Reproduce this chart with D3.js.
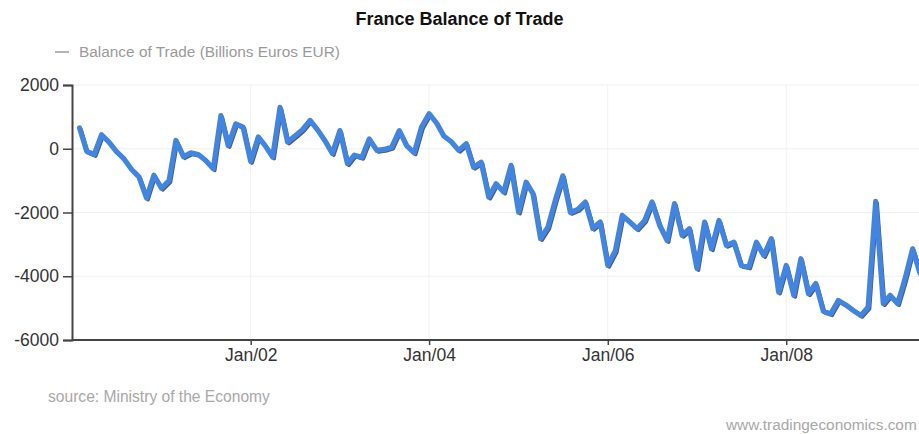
<!DOCTYPE html>
<html>
<head>
<meta charset="utf-8">
<script src="https://cdn.jsdelivr.net/npm/d3@7"></script>
<style>
  html, body { margin: 0; padding: 0; background: #fff; }
  svg { display: block; font-family: "Liberation Sans", Arial, sans-serif; }
</style>
</head>
<body>
<svg id="chart" width="919" height="434"></svg>
<script>
// Monthly balance of trade, millions of euros, one array per calendar year
const balance2000 = [650, -80, -180, 440, 200, -90, -320, -650, -880, -1550, -830]; // Feb–Dec
const balance2001 = [-1240, -1000, 260, -250, -130, -180, -370, -630, 1040, 100, 780, 680];
const balance2002 = [-400, 370, 100, -260, 1300, 210, 400, 600, 890, 600, 250, -150];
const balance2003 = [570, -470, -200, -270, 310, -50, -20, 50, 570, 100, -130, 680];
const balance2004 = [1100, 800, 400, 220, -50, 160, -580, -420, -1520, -1100, -1360, -520];
const balance2005 = [-1990, -1050, -1410, -2820, -2460, -1600, -850, -2000, -1900, -1670, -2500, -2300];
const balance2006 = [-3660, -3200, -2090, -2300, -2510, -2250, -1670, -2400, -2880, -1720, -2720, -2510];
const balance2007 = [-3760, -2300, -3140, -2250, -3030, -2930, -3660, -3710, -2930, -3350, -2820, -4500];
const balance2008 = [-3660, -4600, -3450, -4550, -4230, -5100, -5180, -4760, -4900, -5070, -5230, -4970];
const balance2009 = [-1650, -4860, -4600, -4860, -4080, -3140, -3900]; // Jan–Jul

const years = [
  { year: 2000, firstMonth: 1, values: balance2000 },
  { year: 2001, firstMonth: 0, values: balance2001 },
  { year: 2002, firstMonth: 0, values: balance2002 },
  { year: 2003, firstMonth: 0, values: balance2003 },
  { year: 2004, firstMonth: 0, values: balance2004 },
  { year: 2005, firstMonth: 0, values: balance2005 },
  { year: 2006, firstMonth: 0, values: balance2006 },
  { year: 2007, firstMonth: 0, values: balance2007 },
  { year: 2008, firstMonth: 0, values: balance2008 },
  { year: 2009, firstMonth: 0, values: balance2009 }
];

const yTickValues = [2000, 0, -2000, -4000, -6000];
const xTickYears = [2002, 2004, 2006, 2008];
const xTickLabels = ["Jan/02", "Jan/04", "Jan/06", "Jan/08"];

const titleText = "France Balance of Trade";
const legendText = "Balance of Trade (Billions Euros EUR)";
const sourceText = "source: Ministry of the Economy";
const siteText = "www.tradingeconomics.com";

const series = years.flatMap(y =>
  y.values.map((v, i) => ({ date: new Date(y.year, y.firstMonth + i, 1), value: v }))
);

const W = 919, H = 434;
const plot = { left: 72, top: 85, bottom: 340, right: 919 };

const svg = d3.select("#chart");

const x = d3.scaleTime()
  .domain([new Date(2000, 0, 1), new Date(2009, 7, 1)])
  .range([plot.left, 927.5]);

const y = d3.scaleLinear()
  .domain([-6000, 2000])
  .range([plot.bottom, plot.top]);

// Title
svg.append("text")
  .attr("x", W / 2).attr("y", 25)
  .attr("text-anchor", "middle")
  .attr("font-size", 18).attr("font-weight", "bold")
  .attr("fill", "#111")
  .text(titleText);

// Legend
svg.append("line")
  .attr("x1", 55).attr("x2", 69).attr("y1", 52).attr("y2", 52)
  .attr("stroke", "#9a9a9a").attr("stroke-width", 1.5);
svg.append("text")
  .attr("x", 79).attr("y", 57)
  .attr("font-size", 15.4).attr("fill", "#9a9a9a")
  .text(legendText);

// Grid
const grid = svg.append("g").attr("class", "grid");
grid.selectAll("line.h").data(yTickValues.filter(v => v !== -6000)).join("line")
  .attr("class", "h")
  .attr("x1", plot.left).attr("x2", plot.right)
  .attr("y1", d => y(d)).attr("y2", d => y(d))
  .attr("stroke", "#efefef").attr("stroke-width", 1);
grid.selectAll("line.v").data(xTickYears).join("line")
  .attr("class", "v")
  .attr("x1", d => x(new Date(d, 0, 1))).attr("x2", d => x(new Date(d, 0, 1)))
  .attr("y1", plot.top).attr("y2", plot.bottom)
  .attr("stroke", "#f0f0f0").attr("stroke-width", 1);

// Clip for the series
svg.append("clipPath").attr("id", "plotClip")
  .append("rect")
  .attr("x", plot.left).attr("y", plot.top - 20)
  .attr("width", plot.right - plot.left).attr("height", plot.bottom - plot.top + 20);

const line = d3.line()
  .x(d => x(d.date))
  .y(d => y(d.value));

const lines = svg.append("g").attr("clip-path", "url(#plotClip)");

// Dark shadow beneath the series line
lines.append("path")
  .datum(series)
  .attr("d", line)
  .attr("transform", "translate(1.5,1.6)")
  .attr("fill", "none")
  .attr("stroke", "#24324a")
  .attr("stroke-opacity", 0.8)
  .attr("stroke-width", 3.5)
  .attr("stroke-linejoin", "round")
  .attr("stroke-linecap", "round");

lines.append("path")
  .datum(series)
  .attr("d", line)
  .attr("fill", "none")
  .attr("stroke", "#4285e0")
  .attr("stroke-width", 5.2)
  .attr("stroke-linejoin", "round")
  .attr("stroke-linecap", "round");

// Y axis
const yAxis = d3.axisLeft(y)
  .tickValues(yTickValues)
  .tickSize(9)
  .tickPadding(4)
  .tickFormat(d => String(d));
const gy = svg.append("g")
  .attr("transform", `translate(${plot.left},0)`)
  .call(yAxis);
gy.select(".domain").attr("stroke", "#444").attr("stroke-width", 2);
gy.selectAll(".tick line").attr("stroke", "#444").attr("stroke-width", 1.5);
gy.selectAll(".tick text")
  .attr("font-size", 17.5).attr("fill", "#333")
  .attr("font-family", "Liberation Sans, Arial, sans-serif");

// X axis
const xAxis = d3.axisBottom(x)
  .tickValues(xTickYears.map(yr => new Date(yr, 0, 1)))
  .tickSize(5)
  .tickPadding(4)
  .tickSizeOuter(0)
  .tickFormat((d, i) => xTickLabels[i]);
const gx = svg.append("g")
  .attr("transform", `translate(0,${plot.bottom})`)
  .call(xAxis);
gx.select(".domain").attr("stroke", "#444").attr("stroke-width", 2)
  .attr("d", `M${plot.left},0H${plot.right}`);
gx.selectAll(".tick line").attr("stroke", "#444").attr("stroke-width", 1.5);
gx.selectAll(".tick text")
  .attr("font-size", 17.5).attr("fill", "#333")
  .attr("font-family", "Liberation Sans, Arial, sans-serif");

// Footer
svg.append("text")
  .attr("x", 48).attr("y", 402)
  .attr("font-size", 15.6).attr("fill", "#a8a8a8")
  .text(sourceText);
svg.append("text")
  .attr("x", 726).attr("y", 430)
  .attr("font-size", 15.4).attr("fill", "#a8a8a8")
  .text(siteText);
</script>
</body>
</html>
